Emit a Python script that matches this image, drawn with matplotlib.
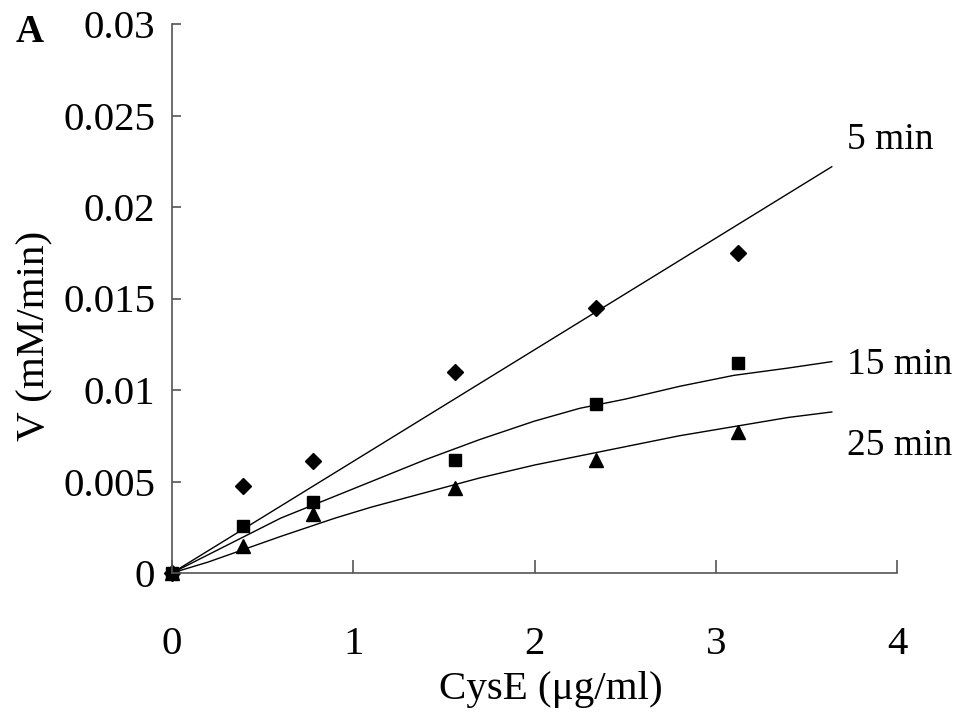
import matplotlib
matplotlib.use("Agg")
import matplotlib.pyplot as plt
import numpy as np

plt.rcParams['font.family'] = ['Liberation Serif', 'DejaVu Serif']

# ---- data ----
cyse = [0, 0.39, 0.78, 1.56, 2.34, 3.12]
v_5min = [0, 0.00475, 0.00612, 0.0110, 0.01448, 0.01749]
v_15min = [0, 0.00257, 0.0039, 0.00617, 0.00923, 0.01146]
v_25min = [0, 0.00148, 0.00322, 0.00464, 0.00617, 0.0077]

# trend lines
trend_5_x = [0, 3.64]
trend_5_y = [0, 0.0222]
trend_x = [0, 0.2, 0.4, 0.6, 0.9, 1.1, 1.4, 1.7, 2.0, 2.25, 2.5, 2.8, 3.1, 3.4, 3.64]
trend_15_y = [0, 0.0010, 0.0020, 0.0030, 0.0042, 0.0050, 0.0062, 0.0073, 0.0083,
              0.0090, 0.0095, 0.0102, 0.0108, 0.0112, 0.01155]
trend_25_y = [0, 0.0006, 0.0013, 0.0020, 0.0030, 0.0036, 0.0044, 0.0052, 0.0059,
              0.0064, 0.0069, 0.0075, 0.0080, 0.0085, 0.0088]

series_labels = ["5 min", "15 min", "25 min"]
label_y = [0.02366, 0.01137, 0.00694]

x_ticks = [0, 1, 2, 3, 4]
y_ticks = [0, 0.005, 0.01, 0.015, 0.02, 0.025, 0.03]
y_ticklabels = ["0", "0.005", "0.01", "0.015", "0.02", "0.025", "0.03"]

fig = plt.figure(figsize=(9.69, 7.2), dpi=100)
ax = fig.add_axes([172/969, 1-573/720, (897-172)/969, (573-24)/720])

ax.plot(trend_5_x, trend_5_y, color='black', lw=1.0)
ax.plot(trend_x, trend_15_y, color='black', lw=1.0)
ax.plot(trend_x, trend_25_y, color='black', lw=1.0)

ax.plot(cyse, v_5min, linestyle='none', marker='D', ms=8, color='black', clip_on=False)
ax.plot(cyse, v_15min, linestyle='none', marker='s', ms=9, color='black', clip_on=False)
ax.plot(cyse, v_25min, linestyle='none', marker='^', ms=10.5, color='black', clip_on=False)

for lab, yy in zip(series_labels, label_y):
    ax.text(3.724, yy, lab, fontsize=27, ha='left', va='center', clip_on=False)

ax.set_xlim(0, 4)
ax.set_ylim(0, 0.03)
ax.set_xticks(x_ticks)
ax.set_yticks(y_ticks)
ax.set_yticklabels(y_ticklabels)
ax.set_xticklabels([str(t) for t in x_ticks])

for s in ['top', 'right']:
    ax.spines[s].set_visible(False)
for s in ['left', 'bottom']:
    ax.spines[s].set_color('#555555')
    ax.spines[s].set_linewidth(1.2)

ax.tick_params(axis='x', direction='in', length=9.4, width=1.2, color='#555555',
               labelsize=29.5, pad=38)
ax.tick_params(axis='y', direction='in', length=6.5, width=1.2, color='#555555',
               labelsize=29.5, pad=12)

ax.text(0.523, -0.213, "CysE (μg/ml)", transform=ax.transAxes, fontsize=29.5,
        ha='center', va='center')
ax.text(-0.189, 0.432, "V (mM/min)", transform=ax.transAxes, fontsize=29.5,
        ha='center', va='center', rotation=90)

fig.text(30/969, 1-32/720, "A", fontsize=28, fontweight='bold', ha='center', va='center')

fig.savefig("out.png", dpi=100)
